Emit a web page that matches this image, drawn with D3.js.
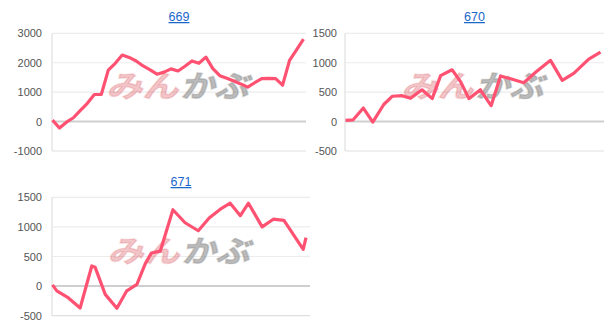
<!DOCTYPE html>
<html>
<head>
<meta charset="utf-8">
<script src="https://cdn.jsdelivr.net/npm/d3@7"></script>
<style>
  body { margin: 0; background: #fff; }
  svg { display: block; font-family: Arial, "Liberation Sans", sans-serif; }
  .tick-label { font-size: 11px; fill: #555; }
  .title { font-size: 12.5px; fill: #1a66c9; text-decoration: underline; }
</style>
</head>
<body>
<svg width="612" height="336"></svg>
<script>
// chart titles
const titles = ["669", "670", "671"];

// y axis ticks per chart
const ticks669 = [-1000, 0, 1000, 2000, 3000];
const ticks670 = [-500, 0, 500, 1000, 1500];
const ticks671 = [-500, 0, 500, 1000, 1500];

// 669: evenly spaced points
const values669 = [50, -220, -20, 130, 380, 620, 920, 920, 1750, 1980, 2260, 2180, 2060,
    1890, 1760, 1610, 1680, 1790, 1720, 1880, 2060, 1980, 2190, 1800, 1560, 1470, 1380,
    1280, 1170, 1320, 1460, 1470, 1460, 1240, 2080, 2440, 2800];

// 670: day position (0-100) and value
const days670 = [0, 3, 7, 10.7, 15, 18.3, 22.2, 25.5, 30, 34, 37.3, 41.8, 45.1, 48.4,
    52.9, 57.1, 60.8, 65.4, 69.9, 74.9, 80.4, 85, 89.5, 95.4, 100];
const values670 = [20, 30, 230, -10, 290, 430, 440, 395, 540, 390, 780, 880, 680, 390,
    540, 270, 775, 720, 660, 850, 1040, 700, 820, 1060, 1180];

// 671: day position (0-100) and value
const days671 = [0, 1.7, 6.3, 10.9, 15.5, 16.8, 20.8, 25.4, 29.3, 33.3, 36.6, 39, 42.5,
    47.5, 52.3, 57.5, 61.8, 66.2, 70.1, 74.1, 77.3, 82.7, 87.1, 91.3, 98.9, 100];
const values671 = [20, -80, -200, -370, 340, 320, -140, -375, -80, 30, 380, 560, 590,
    1290, 1070, 935, 1150, 1300, 1400, 1190, 1400, 1000, 1130, 1110, 620, 820];

const svg = d3.select("svg");

const panels = [
    {title: titles[0], ticks: ticks669, x: values669.map((d, i) => i), y: values669,
     left: 52, right: 303.5, gridRight: 306, top: 33.3, bottom: 151, titleY: 21, labelX: 42},
    {title: titles[1], ticks: ticks670, x: days670, y: values670,
     left: 345, right: 600.5, gridRight: 604, top: 33.3, bottom: 151, titleY: 21, labelX: 337},
    {title: titles[2], ticks: ticks671, x: days671, y: values671,
     left: 52, right: 306, gridRight: 310, top: 197.3, bottom: 315.7, titleY: 186, labelX: 42}
];

panels.forEach(p => {
    let g = svg.append("g");

    let xScale = d3.scaleLinear()
        .domain(d3.extent(p.x))
        .range([p.left + 0.5, p.right]);
    let yScale = d3.scaleLinear()
        .domain(d3.extent(p.ticks))
        .range([p.bottom, p.top]);

    // title
    g.append("text")
        .attr("class", "title")
        .attr("x", (p.left + p.gridRight) / 2)
        .attr("y", p.titleY)
        .attr("text-anchor", "middle")
        .text(p.title);

    // grid lines
    g.selectAll("line.grid")
        .data(p.ticks)
        .join("line")
        .attr("class", "grid")
        .attr("x1", p.left)
        .attr("x2", p.gridRight)
        .attr("y1", d => yScale(d))
        .attr("y2", d => yScale(d))
        .attr("stroke", d => d === 0 ? "#cfcfcf" : (d === p.ticks[0] ? "#e0e0e0" : "#ececec"))
        .attr("stroke-width", d => d === 0 ? 2 : 1.2);

    // y axis line
    g.append("line")
        .attr("x1", p.left)
        .attr("x2", p.left)
        .attr("y1", p.top)
        .attr("y2", p.bottom)
        .attr("stroke", "#e6e6e6")
        .attr("stroke-width", 1.5);

    // tick labels
    g.selectAll("text.tick-label")
        .data(p.ticks)
        .join("text")
        .attr("class", "tick-label")
        .attr("x", p.labelX)
        .attr("y", d => yScale(d) + 4)
        .attr("text-anchor", "end")
        .text(d => d);

    // watermark
    let cx = (p.left + p.right) / 2 + 2;
    let cy = (p.top + p.bottom) / 2 - 8;
    let wm = g.append("g")
        .attr("transform", "translate(" + cx + "," + cy + ") skewX(-14)")
        .style("font-family", "'Noto Sans CJK JP', sans-serif")
        .style("font-weight", "bold")
        .style("font-size", "30px");
    wm.append("text")
        .attr("x", -70)
        .attr("y", 13)
        .attr("textLength", 72)
        .attr("lengthAdjust", "spacingAndGlyphs")
        .attr("fill", "rgba(214, 70, 80, 0.32)")
        .attr("stroke", "rgba(214, 70, 80, 0.2)")
        .attr("stroke-width", 1.5)
        .text("みん");
    wm.append("text")
        .attr("x", 4)
        .attr("y", 13)
        .attr("textLength", 68)
        .attr("lengthAdjust", "spacingAndGlyphs")
        .attr("fill", "rgba(120, 120, 120, 0.5)")
        .attr("stroke", "rgba(120, 120, 120, 0.3)")
        .attr("stroke-width", 1.5)
        .text("かぶ");

    // line
    let pts = p.x.map((d, i) => [d, p.y[i]]);
    g.append("path")
        .datum(pts)
        .attr("fill", "none")
        .attr("stroke", "#ff5272")
        .attr("stroke-width", 3.2)
        .attr("stroke-linejoin", "round")
        .attr("d", d3.line()
            .x(d => xScale(d[0]))
            .y(d => yScale(d[1])));
});
</script>
</body>
</html>
